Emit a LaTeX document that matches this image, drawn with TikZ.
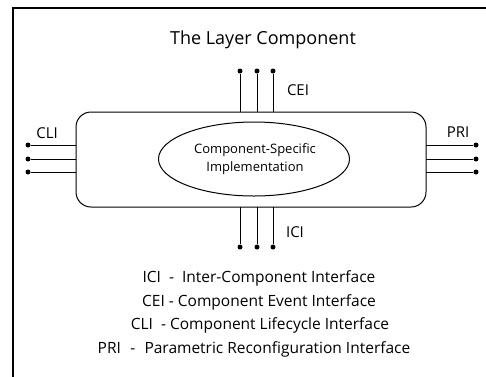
\documentclass[tikz,border=0pt]{standalone}
\usepackage{fontspec}
\setmainfont{Open Sans}
\usetikzlibrary{shapes.geometric}
\begin{document}
\begin{tikzpicture}[x=1pt,y=-1pt,
  wire/.style={line width=0.8pt},
  pin/.style={circle,fill=black,inner sep=0pt,minimum size=5pt},
  lbl/.style={font=\fontsize{15}{18}\selectfont,inner sep=0pt},
  leg/.style={font=\fontsize{15.5}{18}\selectfont,inner sep=0pt}]
\useasboundingbox (0,0) rectangle (486,376);
\begin{scope}
\clip (0,0) rectangle (486,376);
\draw[line width=1.4pt] (13,8) rectangle (500,390);
\end{scope}
\node[font=\fontsize{18}{21}\selectfont,inner sep=0pt] (title) at (263,40) {The Layer Component};
\draw[line width=1pt,rounded corners=15pt] (76,112) rectangle (426,207);
\node[ellipse,draw,line width=1pt,minimum width=191pt,minimum height=74pt,inner sep=0pt] (impl) at (254,159) {};
\node[align=center,font=\fontsize{13}{18}\selectfont,inner sep=0pt] (impltxt) at (255,159) {Component-Specific\\Implementation};
% CEI
\foreach \i/\x in {1/240,2/257,3/273}{
  \node[pin] (cei\i) at (\x,71) {};
  \coordinate (ceiB\i) at (\x,112);
  \draw[wire] (cei\i) -- (ceiB\i);
  \node[pin] (ici\i) at (\x,247) {};
  \coordinate (iciB\i) at (\x,207);
  \draw[wire] (ici\i) -- (iciB\i);
}
\foreach \i/\y in {1/145,2/159,3/172}{
  \node[pin] (cli\i) at (28,\y) {};
  \coordinate (cliB\i) at (76,\y);
  \draw[wire] (cli\i) -- (cliB\i);
  \node[pin] (pri\i) at (476,\y) {};
  \coordinate (priB\i) at (426,\y);
  \draw[wire] (pri\i) -- (priB\i);
}
\node[lbl] (ceil) at (298,90) {CEI};
\node[lbl] (icil) at (295,232) {ICI};
\node[lbl] (clil) at (47,133) {CLI};
\node[lbl] (pril) at (458,132) {PRI};
\node[leg] (l1) at (259,278) {ICI\ \ -\ \ Inter-Component Interface};
\node[leg] (l2) at (259,302) {CEI - Component Event Interface};
\node[leg] (l3) at (260,325) {CLI\ \ - Component Lifecycle Interface};
\node[leg] (l4) at (254,349) {PRI\hspace{0.6em}-\hspace{0.6em}Parametric Reconfiguration Interface};
\end{tikzpicture}
\end{document}
